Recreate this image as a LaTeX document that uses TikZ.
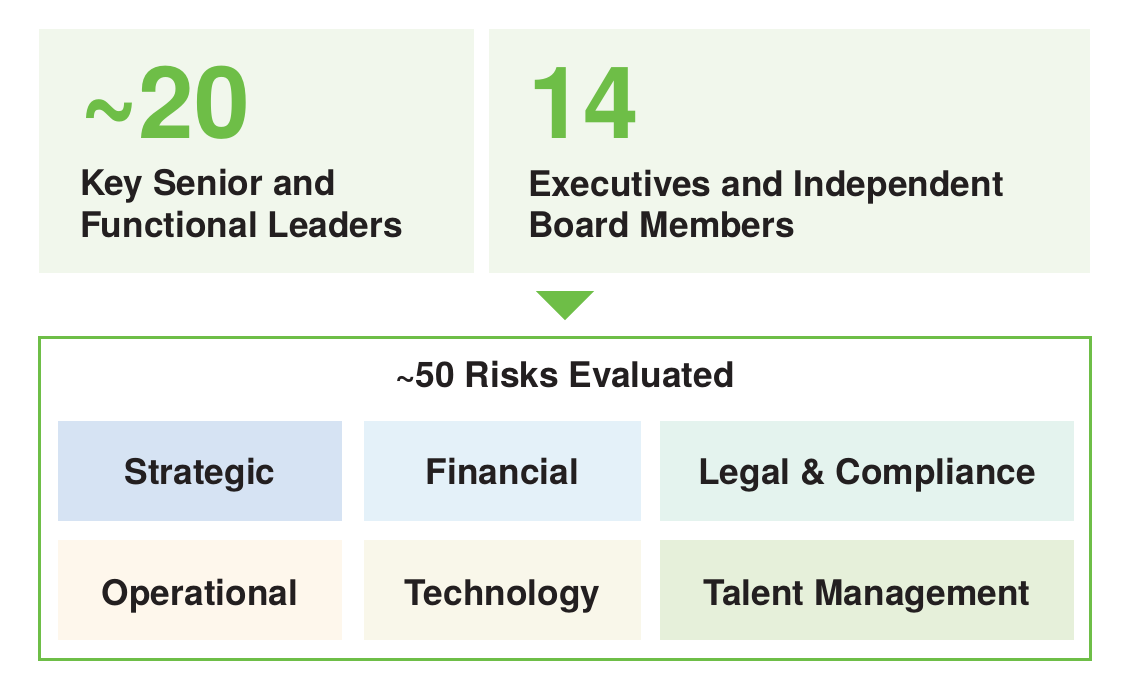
\documentclass[tikz,border=0pt]{standalone}
\usepackage{fontspec}
\setmainfont{TeX Gyre Heros}
\definecolor{lgreen}{HTML}{F1F7EC}
\definecolor{mgreen}{HTML}{6EBE47}
\definecolor{txt}{HTML}{231F20}
\definecolor{cStrat}{HTML}{D6E3F3}
\definecolor{cFin}{HTML}{E4F1F9}
\definecolor{cLegal}{HTML}{E4F3EE}
\definecolor{cOper}{HTML}{FEF7EC}
\definecolor{cTech}{HTML}{F9F7EA}
\definecolor{cTal}{HTML}{E6F0DA}
\newcommand{\tld}{\char"7E\relax}
\tikzset{
  bignum/.style={anchor=base west, inner sep=0pt, text=mgreen, font=\fontsize{100}{100}\selectfont\bfseries},
  lbl/.style={anchor=base west, inner sep=0pt, text=txt, font=\fontsize{35.3}{40}\selectfont\bfseries},
  catlbl/.style={anchor=base, inner sep=0pt, text=txt, font=\fontsize{35.3}{40}\selectfont\bfseries},
}
\begin{document}
\begin{tikzpicture}[x=1pt,y=-1pt]
\useasboundingbox (0,0) rectangle (1128,697);
\fill[white] (0,0) rectangle (1128,697);
% top panels
\fill[lgreen] (39,29) rectangle (474,273);
\fill[lgreen] (489,29) rectangle (1090,273);
\node[bignum] (n20) at (80,138) {\raisebox{-2pt}{\scalebox{1}[1.3]{\tld}}20};
\node[lbl] (l1a) at (80,195) {Key Senior and};
\node[lbl] (l1b) at (80,237) {Functional Leaders};
\node[bignum] (n14) at (528,138) {14};
\node[lbl] (l2a) at (528,196) {Executives and Independent};
\node[lbl] (l2b) at (528,237) {Board Members};
% triangle
\coordinate (tA) at (536,291);
\coordinate (tB) at (594,291);
\coordinate (tC) at (565,320);
\fill[mgreen] (tA) -- (tB) -- (tC) -- cycle;
% frame
\draw[mgreen, line width=3pt] (39.5,337.5) rectangle (1090.5,659.5);
\node[catlbl] (title) at (565,387) {\tld50 Risks Evaluated};
% category boxes
\fill[cStrat] (58,421) rectangle (342,521);
\fill[cFin] (364,421) rectangle (641,521);
\fill[cLegal] (660,421) rectangle (1074,521);
\fill[cOper] (58,540) rectangle (342,640);
\fill[cTech] (364,540) rectangle (641,640);
\fill[cTal] (660,540) rectangle (1074,640);
\node[catlbl] (cs) at (200,484) {Strategic};
\node[catlbl] (cf) at (502.5,484) {Financial};
\node[catlbl] (cl) at (867,484) {Legal \& Compliance};
\node[catlbl] (co) at (200,605) {Operational};
\node[catlbl] (ct) at (502.5,605) {Technology};
\node[catlbl] (cm) at (867,605) {Talent Management};
\end{tikzpicture}
\end{document}
